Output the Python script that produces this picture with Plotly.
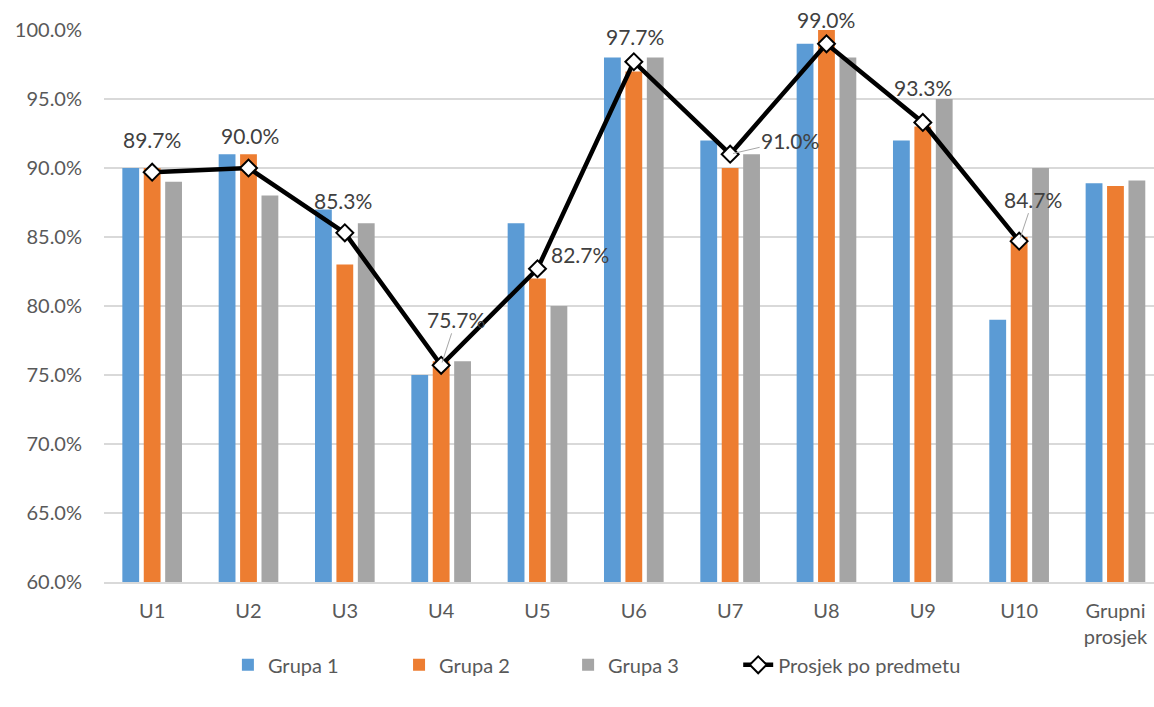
import plotly.graph_objects as go

categories = ["U1", "U2", "U3", "U4", "U5", "U6", "U7", "U8", "U9", "U10", "Grupni<br>prosjek"]
grupa1 = [90, 91, 87, 75, 86, 98, 92, 99, 92, 79, 88.9]
grupa2 = [90, 91, 83, 76, 82, 97, 90, 100, 93, 85, 88.7]
grupa3 = [89, 88, 86, 76, 80, 98, 91, 98, 95, 90, 89.1]
prosjek_cats = ["U1", "U2", "U3", "U4", "U5", "U6", "U7", "U8", "U9", "U10"]
prosjek = [89.7, 90.0, 85.3, 75.7, 82.7, 97.7, 91.0, 99.0, 93.3, 84.7]
y_ticks = [60, 65, 70, 75, 80, 85, 90, 95, 100]
y_tick_labels = ["60.0%", "65.0%", "70.0%", "75.0%", "80.0%", "85.0%", "90.0%", "95.0%", "100.0%"]

# label offsets (pixels) and whether to draw a leader line
label_offsets = [(0, -33, False), (1, -33, False), (-2, -32, False), (15, -46, True),
                 (43, -14, False), (1, -25, False), (60, -14, True), (0, -24, False),
                 (0, -35, False), (14, -42, True)]

FONT = "Lato"
fig = go.Figure()
legend_ids = ["legend", "legend2", "legend3", "legend4"]
for name, vals, col, lg in [("Grupa 1", grupa1, "#5B9BD5", "legend"), ("Grupa 2", grupa2, "#ED7D31", "legend2"),
                            ("Grupa 3", grupa3, "#A5A5A5", "legend3")]:
    fig.add_trace(go.Bar(x=categories, y=vals, name=name, legend=lg,
                         marker=dict(color=col, line=dict(width=0))))

fig.add_trace(go.Scatter(x=prosjek_cats, y=prosjek, name="Prosjek po predmetu", mode="lines+markers",
                         legend="legend4",
                         line=dict(color="black", width=4.5),
                         marker=dict(symbol="diamond", size=13, color="white",
                                     line=dict(color="black", width=2))))

for c, v, (dx, dy, lead) in zip(prosjek_cats, prosjek, label_offsets):
    txt = f"{v:.1f}%"
    if lead:
        fig.add_annotation(x=c, y=v, text=txt, showarrow=True, arrowhead=0, arrowwidth=1,
                           arrowcolor="#A6A6A6", ax=dx, ay=dy, standoff=3,
                           font=dict(family=FONT, size=21, color="#404040"))
    else:
        fig.add_annotation(x=c, y=v, text=txt, showarrow=False, xshift=dx, yshift=-dy,
                           font=dict(family=FONT, size=21, color="#404040"))

legend_x = [0.118, 0.281, 0.442, 0.604]
leg_common = dict(orientation="h", xanchor="left", y=-0.15, yanchor="middle",
                  font=dict(family=FONT, size=20, color="#595959"), bgcolor="rgba(0,0,0,0)")

fig.update_layout(
    width=1154, height=707,
    margin=dict(l=104, r=0, t=30, b=125, autoexpand=False),
    paper_bgcolor="white", plot_bgcolor="white",
    barmode="group", bargap=0.333, bargroupgap=0.215,
    font=dict(family=FONT, size=20, color="#595959"),
    showlegend=True,
    **{lg: dict(x=lx, **leg_common) for lg, lx in zip(legend_ids, legend_x)},
)
fig.update_yaxes(range=[60, 100], tickvals=y_ticks, ticktext=y_tick_labels,
                 showgrid=True, gridcolor="#D9D9D9", gridwidth=1.5, zeroline=False,
                 showline=False, ticks="", ticklabelstandoff=21,
                 tickfont=dict(size=20, color="#595959"), automargin=False)
fig.update_xaxes(range=[-0.5, 10.4], showgrid=False, showline=True, linecolor="#D9D9D9", linewidth=1.5,
                 ticks="", ticklabelstandoff=10,
                 tickfont=dict(size=20, color="#595959"), automargin=False)

fig.write_html("out.html", config={"displayModeBar": False},
               post_script="document.body.style.margin='0';document.body.style.overflow='hidden';")
